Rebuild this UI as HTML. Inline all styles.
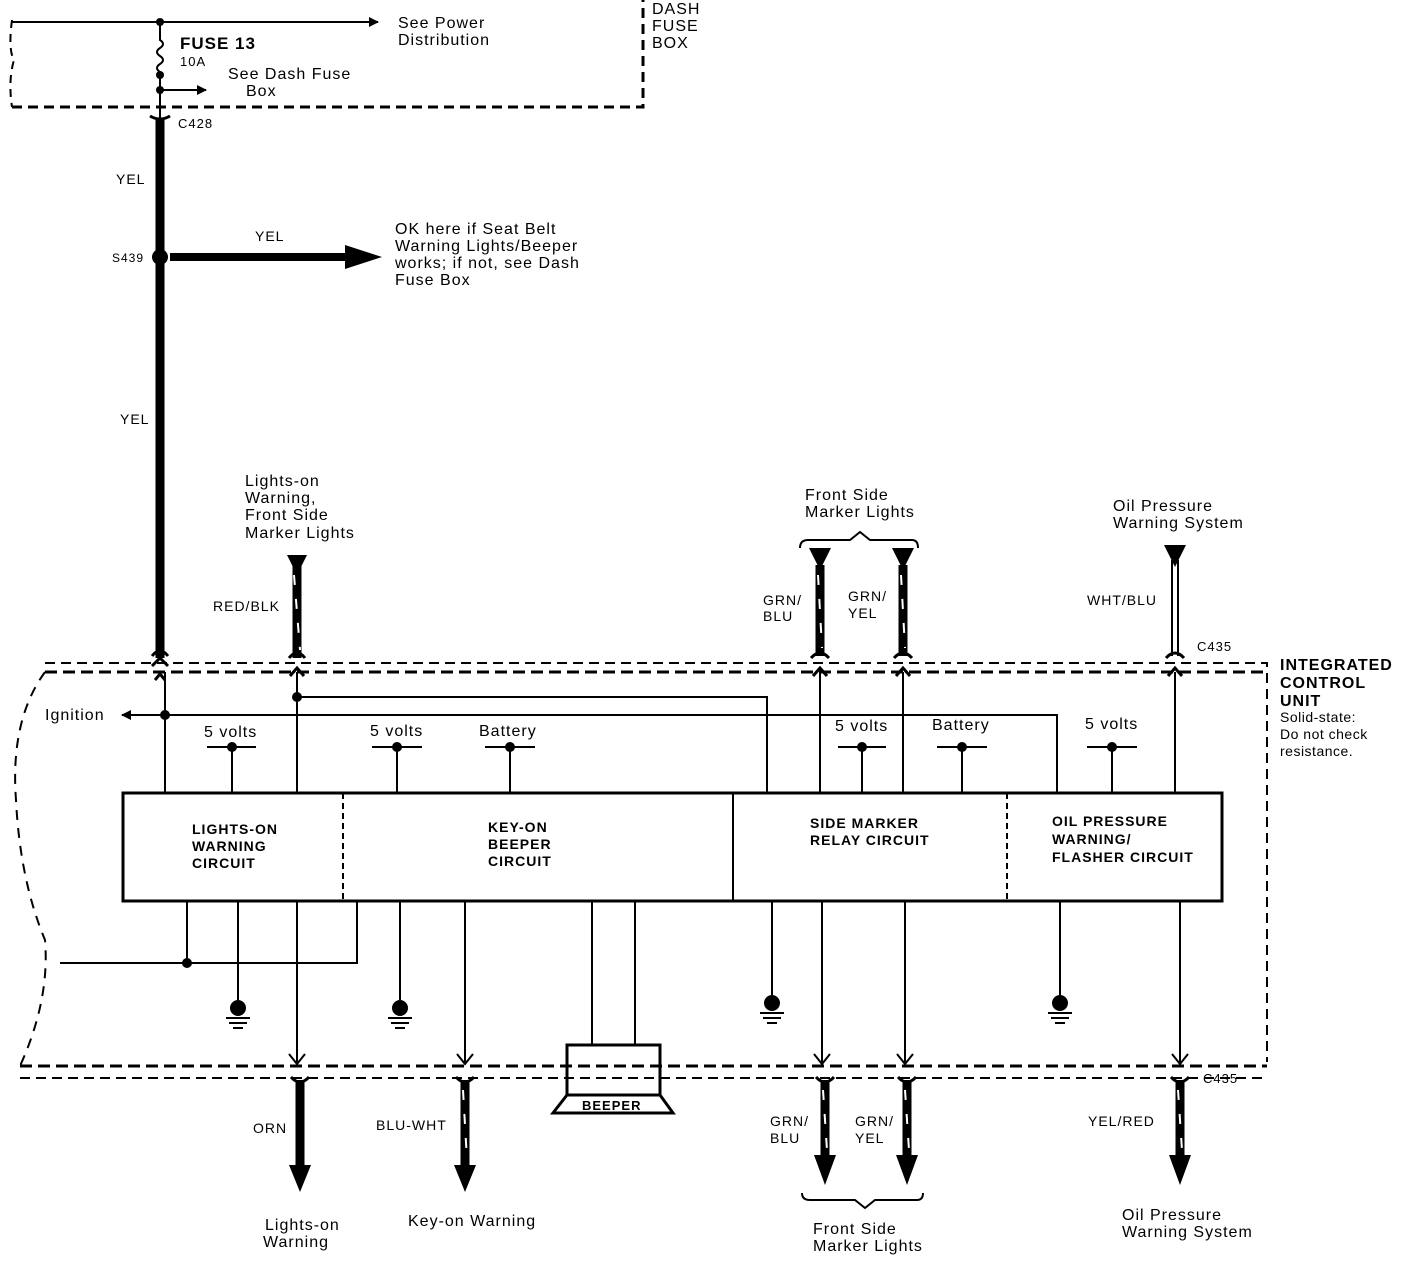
<!DOCTYPE html><html><head><style>body{margin:0;background:#fff}svg{display:block}text{font-family:"Liberation Sans",sans-serif;font-size:16px;letter-spacing:1px;fill:#000}.b{font-weight:bold}</style></head><body>
<svg width="1408" height="1264" viewBox="0 0 1408 1264" xmlns="http://www.w3.org/2000/svg">
<defs>
<marker id="a" markerWidth="10" markerHeight="10" refX="9" refY="5" orient="auto" markerUnits="userSpaceOnUse"><path d="M0,0 L10,5 L0,10z"/></marker>
</defs>
<g stroke="#000" fill="none">
<path d="M12,107 H643 V0" stroke-width="3" stroke-dasharray="10,6"/>
<path d="M12,20 Q8,50 14,60 Q8,80 12,107" stroke-width="2" stroke-dasharray="8,6"/>
<line x1="12" y1="22" x2="378" y2="22" stroke-width="2" marker-end="url(#a)"/>
<path d="M160,22 V40 q6,4 0,8 q-6,4 0,8 q6,4 0,8 q-6,4 0,8 V118" stroke-width="2"/>
<line x1="160" y1="90" x2="206" y2="90" stroke-width="2" marker-end="url(#a)"/>
<path d="M150,116 Q160,122 170,116" stroke-width="3"/>
<line x1="160" y1="118" x2="160" y2="658" stroke-width="9"/>
<line x1="170" y1="257" x2="350" y2="257" stroke-width="8"/>
<path d="M152,656 Q160,646 168,656 M152,666 L160,658 L168,666 M155,680 L160,674 L165,680" stroke-width="3"/>
<line x1="297" y1="565" x2="297" y2="658" stroke-width="9"/>
<line x1="294" y1="575" x2="300" y2="650" stroke="#fff" stroke-width="2" stroke-dasharray="10,14"/>
<path d="M289,658 Q297,648 305,658 M290,676 L297,668 L304,676" stroke-width="3"/>
<line x1="820" y1="565" x2="820" y2="656" stroke-width="9"/>
<line x1="818" y1="575" x2="822" y2="648" stroke="#fff" stroke-width="2" stroke-dasharray="10,14"/>
<line x1="903" y1="565" x2="903" y2="656" stroke-width="9"/>
<line x1="901" y1="575" x2="905" y2="648" stroke="#fff" stroke-width="2" stroke-dasharray="10,14"/>
<path d="M811,658 Q820,648 829,658 M894,658 Q903,648 912,658 M813,676 L820,668 L827,676 M896,676 L903,668 L910,676" stroke-width="3"/>
<path d="M800,548 Q800,540 808,540 H850 L860,532 L870,540 H912 Q918,540 918,548" stroke-width="2"/>
<line x1="1172" y1="560" x2="1172" y2="656" stroke-width="2"/><line x1="1178" y1="560" x2="1178" y2="656" stroke-width="2"/>
<path d="M1166,658 Q1175,648 1184,658 M1168,676 L1175,668 L1182,676" stroke-width="3"/>
<path d="M45,663 H1267 V1062" stroke-width="2" stroke-dasharray="10,6"/>
<path d="M45,672 H1267" stroke-width="3" stroke-dasharray="12,6"/>
<path d="M20,1066 H1267" stroke-width="3" stroke-dasharray="12,6"/>
<path d="M20,1078 H1267" stroke-width="2" stroke-dasharray="10,6"/>
<path d="M45,672 Q10,720 16,800 Q20,880 45,940 Q50,1000 20,1066" stroke-width="2" stroke-dasharray="10,8"/>
<rect x="123" y="793" width="1099" height="108" stroke-width="3"/>
<line x1="343" y1="793" x2="343" y2="901" stroke-width="2" stroke-dasharray="6,4"/>
<line x1="733" y1="793" x2="733" y2="901" stroke-width="2"/>
<line x1="1007" y1="793" x2="1007" y2="901" stroke-width="2" stroke-dasharray="6,4"/>
<g stroke-width="2">
<line x1="165" y1="672" x2="165" y2="793"/><line x1="297" y1="672" x2="297" y2="793"/>
<line x1="820" y1="672" x2="820" y2="793"/><line x1="903" y1="672" x2="903" y2="793"/><line x1="1175" y1="672" x2="1175" y2="793"/>
<line x1="165" y1="715" x2="122" y2="715" marker-end="url(#a)"/>
<path d="M165,715 H1057 V793"/>
<path d="M297,697 H767 V793"/>
<path d="M207,747 H256 M232,747 V793 M372,747 H422 M397,747 V793 M485,747 H535 M510,747 V793 M838,747 H886 M862,747 V793 M937,747 H987 M962,747 V793 M1087,747 H1137 M1112,747 V793"/>
<path d="M187,901 V963 M60,963 H357 V901 M238,901 V1000 M297,901 V1062 M400,901 V1000 M465,901 V1062 M592,901 V1045 M635,901 V1045 M772,901 V995 M822,901 V1062 M905,901 V1062 M1060,901 V995 M1180,901 V1062"/>
<path d="M289,1054 L297,1064 L305,1054 M457,1054 L465,1064 L473,1054 M814,1054 L822,1064 L830,1054 M897,1054 L905,1064 L913,1054 M1172,1054 L1180,1064 L1188,1054"/>
<path d="M226,1018 H250 M229,1023 H247 M233,1028 H243 M388,1018 H412 M391,1023 H409 M395,1028 H405 M760,1013 H784 M763,1018 H781 M767,1023 H777 M1048,1013 H1072 M1051,1018 H1069 M1055,1023 H1065"/>
</g>
<rect x="567" y="1045" width="93" height="50" stroke-width="3"/>
<path d="M567,1095 L553,1113 H673 L660,1095" stroke-width="3"/>
<g stroke-width="9">
<line x1="300" y1="1080" x2="300" y2="1172"/><line x1="465" y1="1080" x2="465" y2="1172"/>
<line x1="825" y1="1080" x2="825" y2="1162"/><line x1="907" y1="1080" x2="907" y2="1162"/>
<line x1="1180" y1="1080" x2="1180" y2="1162"/>
</g>
<g stroke="#fff" stroke-width="2" stroke-dasharray="10,14">
<line x1="463" y1="1090" x2="467" y2="1160"/><line x1="823" y1="1090" x2="827" y2="1150"/><line x1="905" y1="1090" x2="909" y2="1150"/><line x1="1178" y1="1090" x2="1182" y2="1150"/>
</g>
<path d="M291,1077 Q300,1087 309,1077 M456,1077 Q465,1087 474,1077 M816,1077 Q825,1087 834,1077 M898,1077 Q907,1087 916,1077 M1171,1077 Q1180,1087 1189,1077" stroke-width="3"/>
<path d="M802,1193 Q802,1200 810,1200 H855 L865,1208 L875,1200 H917 Q923,1200 923,1193" stroke-width="2"/>
</g>
<g fill="#000">
<circle cx="160" cy="22" r="4"/><circle cx="160" cy="75" r="4"/><circle cx="160" cy="90" r="4"/>
<circle cx="160" cy="257" r="8"/>
<path d="M345,245 L382,257 L345,269z"/>
<path d="M287,555 H307 L297,575z M809,548 H831 L820,570z M892,548 H914 L903,570z M1164,545 H1186 L1175,567z"/>
<circle cx="165" cy="715" r="5"/><circle cx="297" cy="697" r="5"/>
<circle cx="232" cy="747" r="5"/><circle cx="397" cy="747" r="5"/><circle cx="510" cy="747" r="5"/><circle cx="862" cy="747" r="5"/><circle cx="962" cy="747" r="5"/><circle cx="1112" cy="747" r="5"/>
<circle cx="187" cy="963" r="5"/>
<circle cx="238" cy="1008" r="8"/><circle cx="400" cy="1008" r="8"/><circle cx="772" cy="1003" r="8"/><circle cx="1060" cy="1003" r="8"/>
<path d="M289,1165 H311 L300,1192z M454,1165 H476 L465,1192z M814,1155 H836 L825,1185z M896,1155 H918 L907,1185z M1169,1155 H1191 L1180,1185z"/>
</g>
<text x="652" y="14">DASH</text><text x="652" y="31">FUSE</text><text x="652" y="48">BOX</text>
<text x="398" y="28">See Power</text><text x="398" y="45">Distribution</text>
<text x="180" y="49" class="b" style="font-size:17px">FUSE 13</text><text x="180" y="66" style="font-size:13px">10A</text>
<text x="228" y="79">See Dash Fuse</text><text x="246" y="96">Box</text>
<text x="178" y="128" style="font-size:13px">C428</text>
<text x="116" y="184" style="font-size:14px">YEL</text><text x="255" y="241" style="font-size:14px">YEL</text>
<text x="112" y="262" style="font-size:12px">S439</text><text x="120" y="424" style="font-size:14px">YEL</text>
<text x="395" y="234">OK here if Seat Belt</text><text x="395" y="251">Warning Lights/Beeper</text><text x="395" y="268">works; if not, see Dash</text><text x="395" y="285">Fuse Box</text>
<text x="245" y="486">Lights-on</text><text x="245" y="503">Warning,</text><text x="245" y="520">Front Side</text><text x="245" y="538">Marker Lights</text>
<text x="213" y="611" style="font-size:14px">RED/BLK</text>
<text x="805" y="500">Front Side</text><text x="805" y="517">Marker Lights</text>
<text x="763" y="605" style="font-size:14px">GRN/</text><text x="763" y="621" style="font-size:14px">BLU</text>
<text x="848" y="601" style="font-size:14px">GRN/</text><text x="848" y="618" style="font-size:14px">YEL</text>
<text x="1113" y="511">Oil Pressure</text><text x="1113" y="528">Warning System</text>
<text x="1087" y="605" style="font-size:14px">WHT/BLU</text><text x="1197" y="651" style="font-size:13px">C435</text>
<text x="1280" y="670" class="b" style="font-size:16px">INTEGRATED</text><text x="1280" y="688" class="b" style="font-size:16px">CONTROL</text><text x="1280" y="706" class="b" style="font-size:16px">UNIT</text>
<text x="1280" y="722" style="font-size:14px;letter-spacing:0.5px">Solid-state:</text><text x="1280" y="739" style="font-size:14px;letter-spacing:0.5px">Do not check</text><text x="1280" y="756" style="font-size:14px;letter-spacing:0.5px">resistance.</text>
<text x="45" y="720">Ignition</text>
<text x="204" y="737">5 volts</text><text x="370" y="736">5 volts</text><text x="479" y="736">Battery</text>
<text x="835" y="731">5 volts</text><text x="932" y="730">Battery</text><text x="1085" y="729">5 volts</text>
<text x="192" y="834" class="b" style="font-size:14px">LIGHTS-ON</text><text x="192" y="851" class="b" style="font-size:14px">WARNING</text><text x="192" y="868" class="b" style="font-size:14px">CIRCUIT</text>
<text x="488" y="832" class="b" style="font-size:14px">KEY-ON</text><text x="488" y="849" class="b" style="font-size:14px">BEEPER</text><text x="488" y="866" class="b" style="font-size:14px">CIRCUIT</text>
<text x="810" y="828" class="b" style="font-size:14px">SIDE MARKER</text><text x="810" y="845" class="b" style="font-size:14px">RELAY CIRCUIT</text>
<text x="1052" y="826" class="b" style="font-size:14px">OIL PRESSURE</text><text x="1052" y="844" class="b" style="font-size:14px">WARNING/</text><text x="1052" y="862" class="b" style="font-size:14px">FLASHER CIRCUIT</text>
<text x="582" y="1110" class="b" style="font-size:13px">BEEPER</text>
<text x="1203" y="1083" style="font-size:13px">C435</text>
<text x="253" y="1133" style="font-size:14px">ORN</text><text x="376" y="1130" style="font-size:14px">BLU-WHT</text>
<text x="770" y="1126" style="font-size:14px">GRN/</text><text x="770" y="1143" style="font-size:14px">BLU</text>
<text x="855" y="1126" style="font-size:14px">GRN/</text><text x="855" y="1143" style="font-size:14px">YEL</text>
<text x="1088" y="1126" style="font-size:14px">YEL/RED</text>
<text x="265" y="1230">Lights-on</text><text x="263" y="1247">Warning</text>
<text x="408" y="1226">Key-on Warning</text>
<text x="813" y="1234">Front Side</text><text x="813" y="1251">Marker Lights</text>
<text x="1122" y="1220">Oil Pressure</text><text x="1122" y="1237">Warning System</text>
</svg></body></html>
